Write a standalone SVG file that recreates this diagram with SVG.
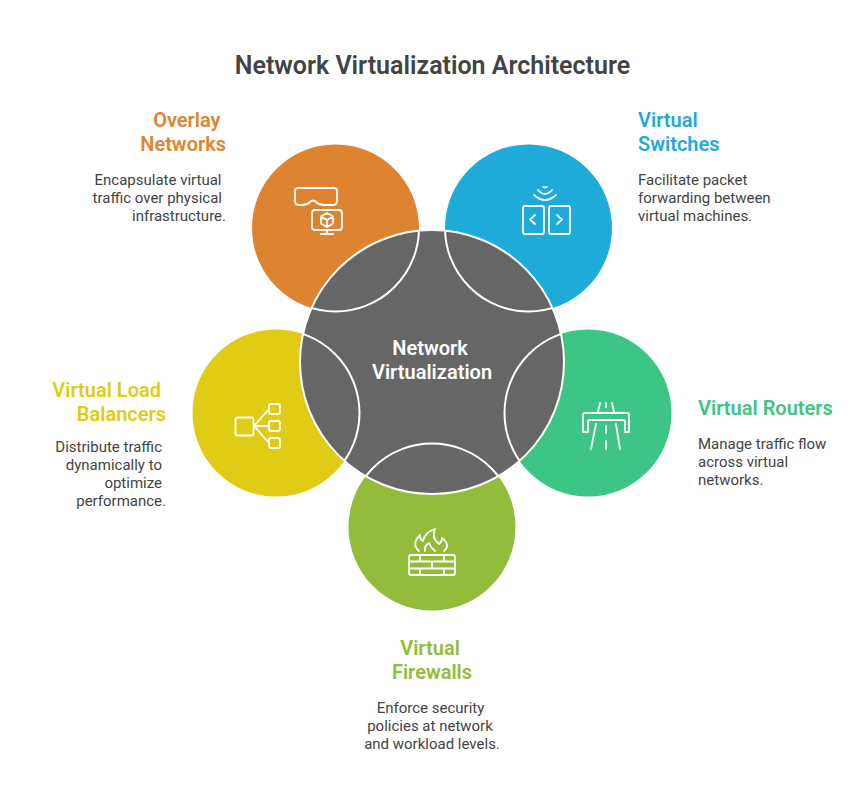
<svg xmlns="http://www.w3.org/2000/svg" width="865" height="804" viewBox="0 0 865 804">
<style>
text{font-family:Roboto,"Liberation Sans",sans-serif}
.t{font-size:25px;font-weight:600;fill:#434343}
.h{font-size:20px;font-weight:600}
.d{font-size:15px;fill:#434343}
.m{text-anchor:middle}.e{text-anchor:end}
.i{fill:none;stroke:#fff;stroke-width:1.800;stroke-linecap:round;stroke-linejoin:round}
.o{fill:none;stroke:#fff;stroke-width:2}
</style>
<defs><clipPath id="c"><circle cx="432" cy="362" r="132"/></clipPath></defs>
<rect width="865" height="804" fill="#fff"/>
<text class="t m" x="432.500" y="74">Network Virtualization Architecture</text>
<g id="overlay">
<circle cx="335.500" cy="228" r="83.500" fill="#de8431"/>
<path class="i" d="M298 188H334Q337 188 337 191V201Q337 205 333 205H324Q319 205 316 202Q313 199 310 202Q307 205 302 205H299Q295 205 295 201V191Q295 188 298 188ZM315 210H339Q342 210 342 213V227Q342 230 339 230H315Q312 230 312 227V213Q312 210 315 210ZM327 230V234M321 234H333M327 213L333 216.500V223.500L327 227L321 223.500V216.500ZM321 216.500L327 220L333 216.500M327 220V227"/>
<text class="h e" fill="#de8431" x="220.500" y="127">Overlay</text>
<text class="h e" fill="#de8431" x="226" y="151">Networks</text>
<text class="d e" x="221.500" y="185">Encapsulate virtual</text>
<text class="d e" x="222" y="203">traffic over physical</text>
<text class="d e" x="226" y="221">infrastructure.</text>
</g>
<g id="switches">
<circle cx="528.500" cy="228" r="83.500" fill="#1eabda"/>
<path class="i" d="M525 206H542Q544 206 544 208V232Q544 234 542 234H525Q523 234 523 232V208Q523 206 525 206ZM551 206H568Q570 206 570 208V232Q570 234 568 234H551Q549 234 549 232V208Q549 206 551 206ZM535 215L530 219.500L535 224M557 215L562 219.500L557 224M534 195Q545 205 556 195M538 190Q545 198 552 190M543 187Q545 188 547 187"/>
<text class="h" fill="#1eabda" x="638" y="127">Virtual</text>
<text class="h" fill="#1eabda" x="638" y="151">Switches</text>
<text class="d" x="638" y="185">Facilitate packet</text>
<text class="d" x="638" y="203">forwarding between</text>
<text class="d" x="638" y="221">virtual machines.</text>
</g>
<g id="routers">
<circle cx="588" cy="413" r="83.500" fill="#3dc585"/>
<path class="i" d="M583 432V415Q583 413 585 413H627Q629 413 629 415V432H625V422Q625 420 623 420H590Q588 420 588 422V432ZM600 403L598 412M612 403L614 412M596 424L591 449M616 424L620 449M606 403V407M606 426V433M606 441V449"/>
<text class="h" fill="#3dc585" x="698" y="415">Virtual Routers</text>
<text class="d" x="698" y="449">Manage traffic flow</text>
<text class="d" x="698" y="467">across virtual</text>
<text class="d" x="698" y="485">networks.</text>
</g>
<g id="balancers">
<circle cx="276" cy="413" r="83.500" fill="#e0cb15"/>
<path class="i" d="M237.500 417.500H251.500Q253.500 417.500 253.500 419.500V433.500Q253.500 435.500 251.500 435.500H237.500Q235.500 435.500 235.500 433.500V419.500Q235.500 417.500 237.500 417.500ZM271 404H278Q280 404 280 406V412Q280 414 278 414H271Q269 414 269 412V406Q269 404 271 404ZM271 421H278Q280 421 280 423V429Q280 431 278 431H271Q269 431 269 429V423Q269 421 271 421ZM271 438H278Q280 438 280 440V446Q280 448 278 448H271Q269 448 269 446V440Q269 438 271 438ZM254 426L269 409M254 426H269M254 426L269 443"/>
<text class="h e" fill="#e0cb15" x="161" y="397">Virtual Load</text>
<text class="h e" fill="#e0cb15" x="166" y="421">Balancers</text>
<text class="d e" x="162" y="452">Distribute traffic</text>
<text class="d e" x="162" y="470">dynamically to</text>
<text class="d e" x="162" y="488">optimize</text>
<text class="d e" x="166" y="506">performance.</text>
</g>
<g id="firewalls">
<circle cx="432" cy="527" r="83.500" fill="#93bc3a"/>
<path class="i" d="M411 555H453Q455 555 455 557V573Q455 575 453 575H411Q409 575 409 573V557Q409 555 411 555ZM409 561.500H455M409 568.500H455M420 555V561.500M444 555V561.500M432 561.500V568.500M420 568.500V575M444 568.500V575M419 551Q411 544 420 535Q420 540 423 541Q425 532 435 529Q431 538 439 544Q442 542 442 538Q451 545 444 551M425 551Q424 546 429 543Q431 548 435 551"/>
<text class="h m" fill="#93bc3a" x="430" y="655">Virtual</text>
<text class="h m" fill="#93bc3a" x="432" y="679">Firewalls</text>
<text class="d m" x="430.500" y="713">Enforce security</text>
<text class="d m" x="430" y="731">policies at network</text>
<text class="d m" x="432" y="749">and workload levels.</text>
</g>
<g id="center">
<circle cx="432" cy="362" r="132" fill="#666"/>
<g id="connectors" clip-path="url(#c)">
<circle class="o" cx="335.500" cy="228" r="83.500"/>
<circle class="o" cx="528.500" cy="228" r="83.500"/>
<circle class="o" cx="588" cy="413" r="83.500"/>
<circle class="o" cx="276" cy="413" r="83.500"/>
<circle class="o" cx="432" cy="527" r="83.500"/>
</g>
<circle class="o" cx="432" cy="362" r="132"/>
<text class="h m" fill="#fff" x="430" y="355">Network</text>
<text class="h m" fill="#fff" x="432" y="379">Virtualization</text>
</g>
</svg>
